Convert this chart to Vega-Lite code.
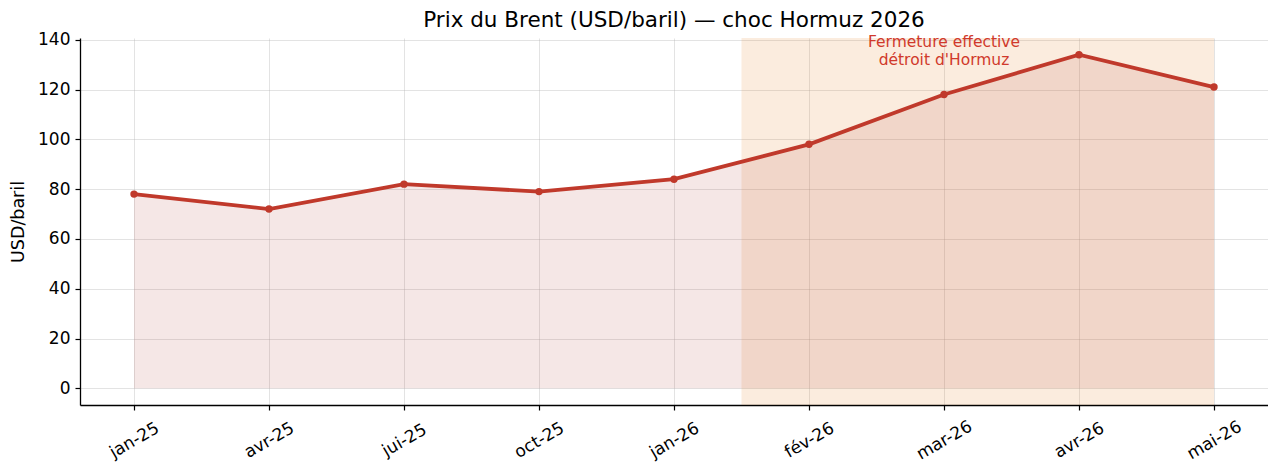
{
  "$schema": "https://vega.github.io/schema/vega-lite/v6.json",
  "width": 1188,
  "height": 367,
  "autosize": "none",
  "padding": {"left": 80, "top": 38, "right": 0, "bottom": 60},
  "background": "white",
  "config": {
    "font": "DejaVu Sans",
    "view": {"stroke": null},
    "axis": {
      "labelFont": "DejaVu Sans",
      "titleFont": "DejaVu Sans",
      "labelFontSize": 17,
      "titleFontSize": 17.5,
      "labelColor": "#000000",
      "titleColor": "#000000",
      "domainColor": "#000000",
      "domainWidth": 1.3,
      "tickColor": "#000000",
      "tickSize": 5,
      "tickWidth": 1.2,
      "grid": true,
      "gridColor": "#b0b0b0",
      "gridOpacity": 0.35,
      "gridWidth": 1,
      "titleFontWeight": "normal"
    }
  },
  "title": {
    "text": "Prix du Brent (USD/baril) — choc Hormuz 2026",
    "font": "DejaVu Sans",
    "fontSize": 21.5,
    "fontWeight": "normal",
    "color": "#000000",
    "anchor": "middle",
    "offset": -1
  },
  "datasets": {
    "prices": [
      {"i": 0, "mois": "jan-25", "prix": 78},
      {"i": 1, "mois": "avr-25", "prix": 72},
      {"i": 2, "mois": "jui-25", "prix": 82},
      {"i": 3, "mois": "oct-25", "prix": 79},
      {"i": 4, "mois": "jan-26", "prix": 84},
      {"i": 5, "mois": "fév-26", "prix": 98},
      {"i": 6, "mois": "mar-26", "prix": 118},
      {"i": 7, "mois": "avr-26", "prix": 134},
      {"i": 8, "mois": "mai-26", "prix": 121}
    ],
    "band": [{"debut": 4.5, "fin": 8}],
    "note": [{"x": 6, "y": 139.2, "txt": ["Fermeture effective", "détroit d'Hormuz"]}]
  },
  "encoding": {
    "x": {
      "type": "quantitative",
      "scale": {"domain": [-0.4, 8.4], "nice": false, "zero": false},
      "axis": {
        "title": null,
        "grid": true,
        "values": [0, 1, 2, 3, 4, 5, 6, 7, 8],
        "labelExpr": "['jan-25','avr-25','jui-25','oct-25','jan-26','fév-26','mar-26','avr-26','mai-26'][datum.value]",
        "labelAngle": -30,
        "labelAlign": "center",
        "labelBaseline": "middle",
        "labelPadding": 30
      }
    },
    "y": {
      "type": "quantitative",
      "scale": {"domain": [-6.7, 140.7], "nice": false, "zero": false},
      "axis": {
        "title": "USD/baril",
        "grid": true,
        "values": [0, 20, 40, 60, 80, 100, 120, 140],
        "titlePadding": 10,
        "labelPadding": 5
      }
    }
  },
  "layer": [
    {
      "data": {"name": "band"},
      "mark": {"type": "rect", "color": "#e67e22", "opacity": 0.15},
      "encoding": {
        "x": {"field": "debut", "type": "quantitative"},
        "x2": {"field": "fin"},
        "y": {"datum": -6.7},
        "y2": {"datum": 140.7}
      }
    },
    {
      "data": {"name": "prices"},
      "mark": {"type": "area", "color": "#b03a2e", "opacity": 0.12},
      "encoding": {
        "x": {"field": "i", "type": "quantitative"},
        "y": {"field": "prix", "type": "quantitative"},
        "y2": {"datum": 0}
      }
    },
    {
      "data": {"name": "prices"},
      "mark": {"type": "line", "color": "#c0392b", "strokeWidth": 3.8, "point": {"filled": true, "size": 55, "color": "#c0392b"}},
      "encoding": {
        "x": {"field": "i", "type": "quantitative"},
        "y": {"field": "prix", "type": "quantitative"}
      }
    },
    {
      "data": {"name": "note"},
      "mark": {"type": "text", "color": "#d0392b", "fontSize": 15.5, "align": "center", "baseline": "middle", "lineHeight": 18, "font": "DejaVu Sans"},
      "encoding": {
        "x": {"field": "x", "type": "quantitative"},
        "y": {"field": "y", "type": "quantitative"},
        "text": {"field": "txt"}
      }
    }
  ]
}
